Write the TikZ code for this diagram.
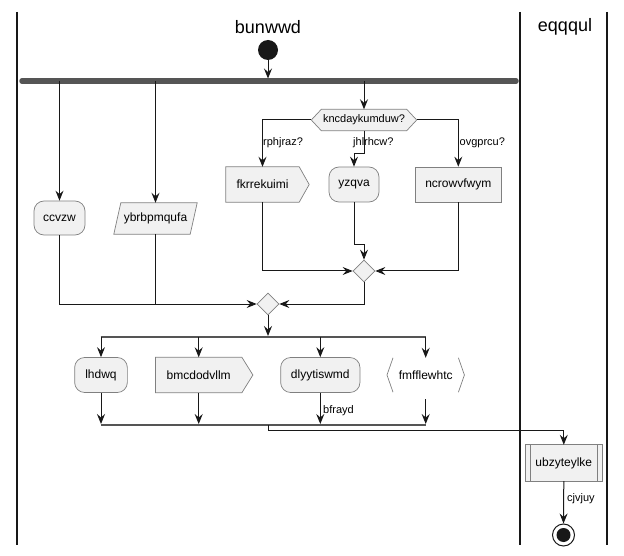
\documentclass[tikz,border=0pt]{standalone}
\usepackage{fontspec}
\setmainfont{Liberation Sans}
\usetikzlibrary{arrows.meta,calc,shapes.geometric,backgrounds}
\definecolor{boxfill}{HTML}{F1F1F1}
\definecolor{boxline}{HTML}{808080}
\definecolor{ink}{HTML}{181818}
\definecolor{barcol}{HTML}{555555}
\tikzset{
  act/.style={inner sep=0pt, minimum height=34pt, font=\fontsize{12}{14}\selectfont},
  boxed/.style={act, draw=boxline, fill=boxfill, line width=0.7pt},
  rnd/.style={boxed, rounded corners=10pt},
  outline/.style={draw=boxline, fill=boxfill, line width=0.7pt},
  conn/.style={draw=ink, line width=1pt},
  arr/.style={conn, -{Stealth[length=10pt,width=8pt,inset=3.5pt]}},
  lbl/.style={font=\fontsize{11}{13}\selectfont, inner sep=0pt, anchor=west},
  lanetitle/.style={font=\fontsize{18}{21}\selectfont, inner sep=0pt},
  lane/.style={draw=ink, line width=1.3pt},
  forkbar/.style={draw=barcol, line cap=round},
  merge/.style={diamond, draw=boxline, fill=boxfill, line width=0.7pt,
    minimum width=22pt, minimum height=22pt, inner sep=0pt},
}
\begin{document}
\begin{tikzpicture}[x=1pt,y=-1pt]
\useasboundingbox (0,0) rectangle (624,556);

% swimlanes
\draw[lane] (17,12) -- (17,545);
\draw[lane] (520,12) -- (520,545);
\draw[lane] (607,12) -- (607,545);
\node[lanetitle] (t1) at (268,27) {bunwwd};
\node[lanetitle] (t2) at (565,27) {eqqqul};

% start and first fork
\node[circle, fill=ink, minimum size=20pt, inner sep=0pt] (start) at (268,50) {};
\coordinate (b1w) at (22,81);
\coordinate (b1e) at (516,81);
\draw[forkbar, line width=5.5pt] (b1w) -- (b1e);

% decision
\node[act, minimum width=85pt, minimum height=21pt, font=\fontsize{11}{13}\selectfont] (q) at (364,120) {kncdaykumduw?};
\coordinate (qL) at ($(q.west)+(-10,0)$);
\coordinate (qR) at ($(q.east)+(10,0)$);

% first row of activities
\node[rnd, minimum width=51pt] (cc) at (59.5,218) {ccvzw};
\node[act, minimum width=76pt, minimum height=31pt] (yb) at (155.5,218.5) {ybrbpmqufa};
\node[act, minimum width=73pt, minimum height=35pt] (fk) at (262.5,184.5) {fkrrekuimi};
\node[rnd, minimum width=50pt, minimum height=35pt] (yz) at (354,184.5) {yzqva};
\node[boxed, minimum width=86.5pt, minimum height=35pt] (nc) at (458.3,184.5) {ncrowvfwym};

% merges
\node[merge] (m1) at (364,271) {};
\node[merge] (m2) at (268,304) {};

% second fork / join
\coordinate (b2w) at (100.5,337);
\coordinate (b2e) at (425.7,337);
\coordinate (b3w) at (100.5,425);
\coordinate (b3e) at (425.7,425);
\coordinate (b3m) at (268,425);
\draw[forkbar, line width=2.2pt, line cap=butt] (b2w) -- (b2e);
\draw[forkbar, line width=2.2pt, line cap=butt] (b3w) -- (b3e);

% second row of activities
\node[rnd, minimum width=52.7pt, minimum height=35pt] (lh) at (101,375) {lhdwq};
\node[act, minimum width=86pt, minimum height=35pt] (bm) at (198.7,375) {bmcdodvllm};
\node[rnd, minimum width=79.3pt, minimum height=35pt] (dl) at (320.3,375) {dlyytiswmd};
\node[act, minimum width=64pt, minimum height=34pt] (fm) at (425.7,375) {fmfflewhtc};

% second lane
\node[act, minimum width=75.7pt, minimum height=36pt] (ub) at (563.8,463) {ubzyteylke};
\node[circle, draw=ink, line width=1pt, minimum size=22pt, inner sep=0pt] (end) at (563.5,535) {};
\fill[ink] (end.center) circle (7pt);

% outlines of the special activity shapes
\begin{scope}[on background layer]
  \path[outline] (q.north west) -- (q.north east) -- (qR) -- (q.south east)
    -- (q.south west) -- (qL) -- cycle;
  \path[outline] ($(yb.north west)+(3.5,0)$) -- ($(yb.north east)+(3.5,0)$)
    -- ($(yb.south east)+(-3.5,0)$) -- ($(yb.south west)+(-3.5,0)$) -- cycle;
  \path[outline] (fk.north west) -- (fk.north east) -- ($(fk.east)+(10,0)$)
    -- (fk.south east) -- (fk.south west) -- cycle;
  \path[outline] (bm.north west) -- (bm.north east) -- ($(bm.east)+(11,0)$)
    -- (bm.south east) -- (bm.south west) -- cycle;
  \path[outline] (ub.north west) rectangle (ub.south east);
  \draw[draw=boxline, line width=0.7pt] ($(ub.north west)+(5,0)$) -- ($(ub.south west)+(5,0)$);
  \draw[draw=boxline, line width=0.7pt] ($(ub.north east)+(-5,0)$) -- ($(ub.south east)+(-5,0)$);
\end{scope}
\draw[draw=boxline, line width=0.7pt] ($(fm.north west)+(-0.5,0)$) -- ($(fm.west)+(-6.5,0)$) -- ($(fm.south west)+(-0.5,0)$);
\draw[draw=boxline, line width=0.7pt] ($(fm.north east)+(0.5,0)$) -- ($(fm.east)+(6.5,0)$) -- ($(fm.south east)+(0.5,0)$);

% connectors
\draw[arr, shorten >=2.5pt] (start) -- (start |- b1w);
\draw[arr] (cc |- b1w) -- (cc.north);
\draw[arr] (yb |- b1w) -- (yb.north);
\draw[arr] (q |- b1w) -- (q.north);

\draw[arr] (qL) -| (fk.north);
\draw[arr] (q.south) -- ++(0,23) -| (yz.north);
\draw[arr] (qR) -| (nc.north);
\node[lbl] (l1) at (263,143) {rphjraz?};
\node[lbl] (l2) at (353,143) {jhlrhcw?};
\node[lbl] (l3) at (459.5,143) {ovgprcu?};

\draw[arr] (fk.south) |- (m1.west);
\draw[arr] (yz.south) -- ++(0,42) -| (m1.north);
\draw[arr] (nc.south) |- (m1.east);

\draw[arr] (m1.south) |- (m2.east);
\draw[arr] (cc.south) |- (m2.west);
\draw[conn] (yb.south) -- (yb |- m2.west);

\draw[arr, shorten >=1pt] (m2.south) -- (m2 |- b2w);
\draw[arr] (lh |- b2w) -- (lh.north);
\draw[arr] (bm |- b2w) -- (bm.north);
\draw[arr] (dl |- b2w) -- (dl.north);
\draw[arr] (fm |- b2w) -- (fm.north);

\draw[arr, shorten >=1pt] (lh.south) -- (lh |- b3w);
\draw[arr, shorten >=1pt] (bm.south) -- (bm |- b3w);
\draw[arr, shorten >=1pt] (dl.south) -- (dl |- b3w);
\draw[arr, shorten >=1pt, shorten <=7pt] (fm.south) -- (fm |- b3w);
\node[lbl] (l4) at (323,411) {bfrayd};

\draw[arr] (b3m) -- ++(0,5.5) -| (ub.north);
\draw[arr] (ub.south) -- (end.north);
\node[lbl] (l5) at (567,499) {cjvjuy};
\end{tikzpicture}
\end{document}
